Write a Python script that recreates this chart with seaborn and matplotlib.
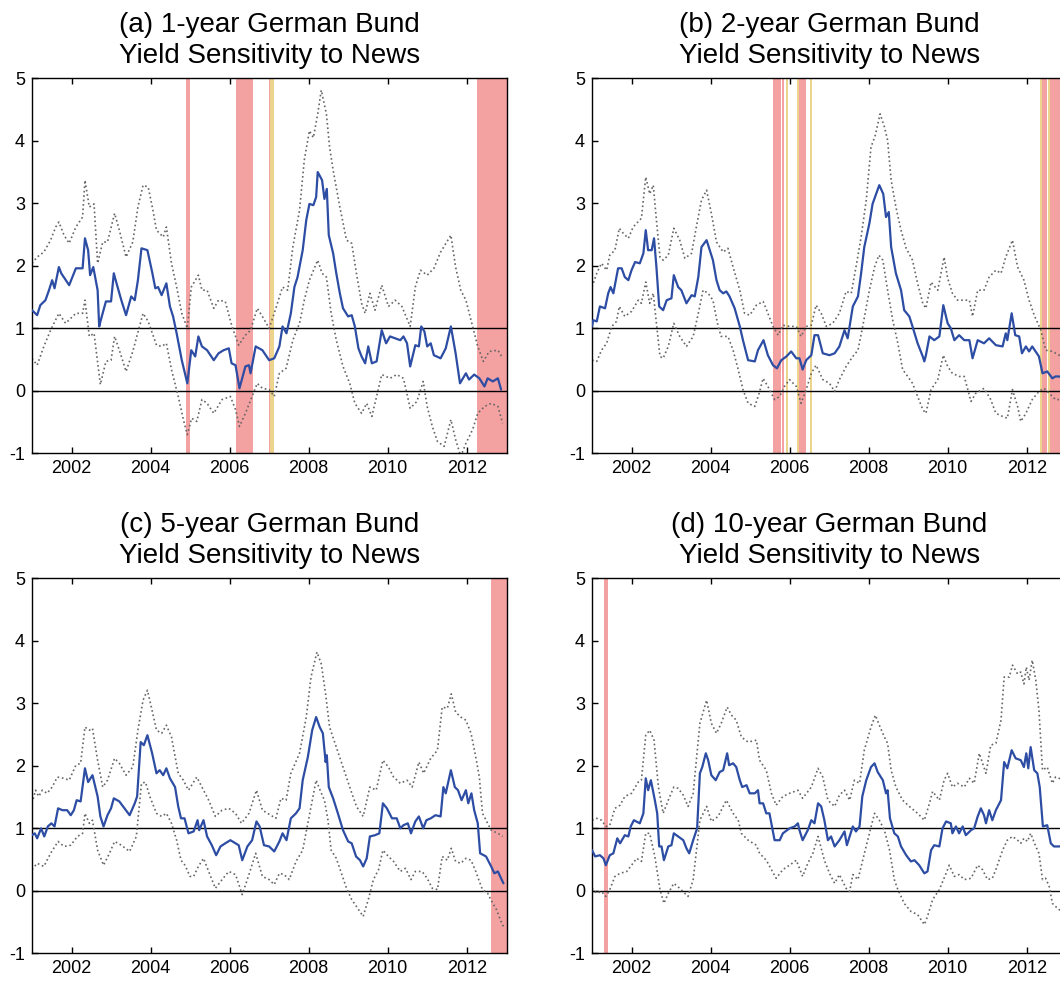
import matplotlib
matplotlib.use("Agg")
import matplotlib.pyplot as plt
import seaborn as sns

# ---- panel (a): 1-year ----
a_mid_t = [2001.00, 2001.13, 2001.21, 2001.34, 2001.43, 2001.51, 2001.57, 2001.68, 2001.74, 2001.94,
           2002.11, 2002.28, 2002.34, 2002.42, 2002.47, 2002.55, 2002.66, 2002.70, 2002.74, 2002.87,
           2003.00, 2003.07, 2003.13, 2003.26, 2003.38, 2003.51, 2003.60, 2003.68, 2003.77, 2003.92,
           2004.04, 2004.12, 2004.19, 2004.28, 2004.40, 2004.49, 2004.57, 2004.66, 2004.79, 2004.93,
           2005.03, 2005.13, 2005.21, 2005.30, 2005.43, 2005.60, 2005.72, 2005.85, 2005.98, 2006.05,
           2006.15, 2006.25, 2006.40, 2006.49, 2006.53, 2006.66, 2006.83, 2007.00, 2007.13, 2007.26,
           2007.34, 2007.44, 2007.55, 2007.64, 2007.72, 2007.85, 2007.94, 2008.02, 2008.12, 2008.19,
           2008.23, 2008.34, 2008.40, 2008.46, 2008.51, 2008.62, 2008.70, 2008.79, 2008.87, 2009.00,
           2009.09, 2009.17, 2009.26, 2009.34, 2009.43, 2009.51, 2009.60, 2009.72, 2009.85, 2009.96,
           2010.06, 2010.19, 2010.32, 2010.40, 2010.49, 2010.57, 2010.70, 2010.79, 2010.85, 2010.93,
           2011.00, 2011.09, 2011.17, 2011.34, 2011.47, 2011.60, 2011.72, 2011.83, 2011.98, 2012.06,
           2012.19, 2012.32, 2012.45, 2012.53, 2012.66, 2012.79, 2012.87]
a_mid_v = [1.29, 1.21, 1.37, 1.45, 1.61, 1.77, 1.64, 1.98, 1.88, 1.69,
           1.96, 1.96, 2.44, 2.25, 1.85, 1.98, 1.61, 1.03, 1.13, 1.43,
           1.43, 1.88, 1.74, 1.45, 1.21, 1.51, 1.45, 1.77, 2.28, 2.25,
           1.90, 1.64, 1.66, 1.53, 1.72, 1.35, 1.19, 0.92, 0.49, 0.12,
           0.65, 0.55, 0.87, 0.71, 0.65, 0.49, 0.60, 0.65, 0.68, 0.44,
           0.41, 0.04, 0.39, 0.41, 0.28, 0.71, 0.65, 0.49, 0.52, 0.71,
           1.03, 0.92, 1.24, 1.66, 1.82, 2.25, 2.73, 2.99, 2.97, 3.10,
           3.50, 3.37, 3.07, 3.23, 2.49, 2.20, 1.88, 1.56, 1.32, 1.19,
           1.21, 1.03, 0.68, 0.55, 0.44, 0.71, 0.44, 0.47, 0.97, 0.76,
           0.87, 0.84, 0.81, 0.87, 0.76, 0.39, 0.73, 0.71, 1.03, 0.95,
           0.71, 0.76, 0.57, 0.52, 0.68, 1.03, 0.60, 0.12, 0.28, 0.18,
           0.26, 0.20, 0.07, 0.20, 0.15, 0.20, 0.02]
a_hi_t = [2001.00, 2001.13, 2001.30, 2001.47, 2001.60, 2001.68, 2001.81, 2001.94, 2002.11, 2002.28,
          2002.34, 2002.45, 2002.57, 2002.66, 2002.79, 2002.91, 2003.09, 2003.21, 2003.38, 2003.55,
          2003.68, 2003.81, 2003.94, 2004.06, 2004.15, 2004.32, 2004.40, 2004.53, 2004.66, 2004.79,
          2004.93, 2005.03, 2005.21, 2005.30, 2005.43, 2005.60, 2005.72, 2005.89, 2006.06, 2006.23,
          2006.40, 2006.53, 2006.70, 2006.83, 2007.00, 2007.13, 2007.34, 2007.47, 2007.60, 2007.77,
          2007.89, 2008.02, 2008.12, 2008.23, 2008.32, 2008.45, 2008.53, 2008.62, 2008.79, 2008.96,
          2009.09, 2009.21, 2009.34, 2009.43, 2009.55, 2009.68, 2009.85, 2010.02, 2010.19, 2010.36,
          2010.57, 2010.70, 2010.83, 2011.00, 2011.17, 2011.34, 2011.60, 2011.72, 2011.85, 2011.98,
          2012.15, 2012.28, 2012.42, 2012.57, 2012.79, 2012.91]
a_hi_v = [2.04, 2.14, 2.22, 2.41, 2.62, 2.70, 2.49, 2.36, 2.62, 2.78,
          3.37, 2.94, 2.99, 2.04, 2.38, 2.38, 2.84, 2.57, 2.14, 2.38,
          2.94, 3.29, 3.26, 2.89, 2.57, 2.46, 2.62, 2.04, 1.66, 1.24,
          1.00, 1.66, 1.85, 1.61, 1.61, 1.32, 1.45, 1.43, 1.03, 0.73,
          0.89, 0.97, 1.32, 1.19, 1.00, 1.24, 1.66, 1.61, 2.30, 2.89,
          3.69, 4.16, 4.05, 4.43, 4.81, 4.43, 3.90, 3.53, 2.94, 2.41,
          2.36, 1.88, 1.40, 1.24, 1.56, 1.29, 1.69, 1.35, 1.45, 1.35,
          1.03, 1.66, 1.93, 1.85, 1.96, 2.22, 2.49, 1.98, 1.61, 1.45,
          1.03, 0.71, 0.47, 0.63, 0.65, 0.52]
a_lo_t = [2001.00, 2001.13, 2001.30, 2001.47, 2001.68, 2001.85, 2002.11, 2002.28, 2002.34, 2002.45,
          2002.57, 2002.73, 2002.87, 2003.00, 2003.09, 2003.21, 2003.38, 2003.55, 2003.81, 2003.94,
          2004.15, 2004.28, 2004.40, 2004.53, 2004.70, 2004.83, 2004.93, 2005.04, 2005.17, 2005.30,
          2005.43, 2005.60, 2005.81, 2006.02, 2006.15, 2006.25, 2006.40, 2006.57, 2006.70, 2006.83,
          2007.00, 2007.13, 2007.26, 2007.43, 2007.60, 2007.77, 2007.89, 2008.02, 2008.23, 2008.34,
          2008.45, 2008.57, 2008.70, 2008.87, 2009.04, 2009.17, 2009.34, 2009.47, 2009.60, 2009.72,
          2009.85, 2010.06, 2010.23, 2010.40, 2010.57, 2010.74, 2010.90, 2011.00, 2011.13, 2011.26,
          2011.43, 2011.60, 2011.72, 2011.85, 2011.98, 2012.15, 2012.28, 2012.45, 2012.62, 2012.79,
          2012.91]
a_lo_v = [0.52, 0.41, 0.71, 0.97, 1.24, 1.08, 1.24, 1.24, 1.45, 0.87,
          0.92, 0.10, 0.47, 0.49, 0.87, 0.65, 0.31, 0.63, 1.24, 1.11,
          0.73, 0.71, 0.76, 0.34, -0.09, -0.46, -0.70, -0.44, -0.49, -0.14,
          -0.20, -0.36, -0.14, -0.09, -0.30, -0.57, -0.36, -0.09, 0.12, 0.04,
          0.02, -0.09, 0.28, 0.36, 0.81, 1.08, 1.45, 1.77, 2.09, 1.88,
          1.82, 1.24, 0.81, 0.39, 0.12, -0.20, -0.36, -0.20, -0.41, -0.09,
          0.26, 0.20, 0.26, 0.20, -0.28, -0.17, 0.15, -0.25, -0.57, -0.81,
          -0.89, -0.46, -0.78, -1.05, -0.84, -0.62, -0.36, -0.25, -0.20, -0.25,
          -0.52]

# ---- panel (b): 2-year ----
b_mid_t = [2001.00, 2001.03, 2001.12, 2001.20, 2001.33, 2001.41, 2001.47, 2001.54, 2001.66, 2001.75,
           2001.83, 2001.92, 2002.00, 2002.09, 2002.21, 2002.30, 2002.36, 2002.42, 2002.51, 2002.57,
           2002.63, 2002.70, 2002.80, 2002.89, 2003.01, 2003.07, 2003.18, 2003.26, 2003.39, 2003.52,
           2003.60, 2003.69, 2003.77, 2003.90, 2003.98, 2004.06, 2004.15, 2004.23, 2004.32, 2004.40,
           2004.48, 2004.61, 2004.74, 2004.82, 2004.95, 2005.12, 2005.20, 2005.34, 2005.45, 2005.58,
           2005.68, 2005.79, 2005.92, 2006.04, 2006.17, 2006.25, 2006.33, 2006.42, 2006.55, 2006.63,
           2006.72, 2006.84, 2007.01, 2007.14, 2007.26, 2007.39, 2007.47, 2007.60, 2007.73, 2007.81,
           2007.89, 2008.02, 2008.10, 2008.19, 2008.27, 2008.37, 2008.44, 2008.51, 2008.57, 2008.69,
           2008.82, 2008.90, 2009.03, 2009.11, 2009.24, 2009.37, 2009.41, 2009.45, 2009.54, 2009.66,
           2009.79, 2009.89, 2010.00, 2010.08, 2010.17, 2010.29, 2010.42, 2010.55, 2010.63, 2010.76,
           2010.92, 2011.05, 2011.22, 2011.39, 2011.47, 2011.51, 2011.62, 2011.71, 2011.81, 2011.88,
           2011.98, 2012.06, 2012.14, 2012.31, 2012.40, 2012.52, 2012.65, 2012.73, 2012.82, 2012.93]
b_mid_v = [1.03, 1.13, 1.11, 1.35, 1.32, 1.56, 1.66, 1.56, 1.96, 1.96,
           1.82, 1.77, 1.93, 2.06, 2.04, 2.20, 2.57, 2.25, 2.25, 2.44,
           1.98, 1.35, 1.29, 1.45, 1.48, 1.85, 1.66, 1.61, 1.40, 1.53,
           1.51, 1.82, 2.30, 2.41, 2.25, 2.09, 1.77, 1.61, 1.56, 1.59,
           1.51, 1.32, 1.03, 0.81, 0.49, 0.47, 0.65, 0.81, 0.57, 0.41,
           0.36, 0.49, 0.55, 0.63, 0.52, 0.52, 0.34, 0.49, 0.57, 0.89,
           0.89, 0.60, 0.57, 0.60, 0.71, 0.97, 0.84, 1.35, 1.51, 1.88,
           2.30, 2.68, 2.99, 3.15, 3.29, 3.15, 2.78, 2.86, 2.30, 1.88,
           1.61, 1.29, 1.19, 1.03, 0.76, 0.55, 0.47, 0.57, 0.87, 0.81,
           0.87, 1.37, 1.08, 1.00, 0.81, 0.89, 0.81, 0.81, 0.52, 0.81,
           0.76, 0.84, 0.73, 0.71, 0.92, 0.81, 1.24, 0.89, 0.87, 0.60,
           0.71, 0.63, 0.71, 0.55, 0.28, 0.31, 0.20, 0.23, 0.23, 0.20]
b_hi_t = [2001.00, 2001.12, 2001.24, 2001.37, 2001.45, 2001.58, 2001.69, 2001.79, 2001.92, 2002.04,
          2002.25, 2002.36, 2002.46, 2002.55, 2002.63, 2002.72, 2002.80, 2002.93, 2003.07, 2003.22,
          2003.35, 2003.52, 2003.64, 2003.77, 2003.90, 2004.02, 2004.15, 2004.32, 2004.44, 2004.57,
          2004.74, 2004.86, 2004.99, 2005.16, 2005.33, 2005.45, 2005.58, 2005.71, 2005.83, 2006.00,
          2006.17, 2006.29, 2006.42, 2006.55, 2006.67, 2006.80, 2006.93, 2007.09, 2007.26, 2007.43,
          2007.56, 2007.68, 2007.81, 2007.94, 2008.06, 2008.17, 2008.29, 2008.40, 2008.48, 2008.57,
          2008.69, 2008.82, 2008.95, 2009.11, 2009.24, 2009.37, 2009.45, 2009.58, 2009.75, 2009.91,
          2010.00, 2010.12, 2010.25, 2010.42, 2010.55, 2010.63, 2010.76, 2010.92, 2011.05, 2011.22,
          2011.35, 2011.47, 2011.64, 2011.77, 2011.93, 2012.06, 2012.19, 2012.36, 2012.48, 2012.65,
          2012.82, 2012.93]
b_hi_v = [1.66, 1.88, 2.04, 1.93, 2.17, 2.25, 2.60, 2.52, 2.44, 2.62,
          2.76, 3.42, 3.15, 3.29, 2.73, 2.14, 2.09, 2.17, 2.60, 2.41,
          2.12, 2.20, 2.62, 3.05, 3.21, 2.84, 2.38, 2.22, 2.28, 1.98,
          1.61, 1.24, 1.21, 1.37, 1.43, 1.24, 1.03, 0.89, 1.05, 1.03,
          1.03, 0.87, 1.03, 1.05, 1.37, 1.24, 1.03, 1.08, 1.24, 1.59,
          1.56, 1.98, 2.46, 3.05, 3.90, 4.09, 4.43, 4.22, 4.01, 3.37,
          2.94, 2.57, 2.28, 2.09, 1.72, 1.40, 1.32, 1.74, 1.61, 2.14,
          1.80, 1.56, 1.45, 1.45, 1.45, 1.19, 1.61, 1.61, 1.82, 1.93,
          1.88, 2.14, 2.41, 1.98, 1.77, 1.45, 1.21, 0.97, 0.65, 0.63,
          0.57, 0.55]
b_lo_t = [2001.00, 2001.12, 2001.24, 2001.37, 2001.50, 2001.62, 2001.69, 2001.83, 2002.00, 2002.17,
          2002.25, 2002.36, 2002.46, 2002.55, 2002.63, 2002.72, 2002.80, 2002.93, 2003.07, 2003.22,
          2003.39, 2003.56, 2003.69, 2003.81, 2003.94, 2004.06, 2004.19, 2004.27, 2004.44, 2004.57,
          2004.70, 2004.82, 2004.95, 2005.12, 2005.23, 2005.33, 2005.45, 2005.62, 2005.75, 2005.87,
          2006.00, 2006.17, 2006.29, 2006.42, 2006.55, 2006.67, 2006.84, 2007.01, 2007.14, 2007.26,
          2007.43, 2007.60, 2007.73, 2007.85, 2008.02, 2008.15, 2008.26, 2008.36, 2008.48, 2008.61,
          2008.74, 2008.86, 2008.99, 2009.11, 2009.24, 2009.37, 2009.45, 2009.58, 2009.75, 2009.89,
          2010.00, 2010.12, 2010.29, 2010.42, 2010.59, 2010.71, 2010.92, 2011.09, 2011.22, 2011.39,
          2011.51, 2011.64, 2011.77, 2011.85, 2011.98, 2012.14, 2012.31, 2012.44, 2012.57, 2012.73,
          2012.82, 2012.93]
b_lo_v = [0.49, 0.47, 0.65, 0.76, 1.03, 1.11, 1.35, 1.19, 1.27, 1.45,
          1.40, 1.74, 1.40, 1.56, 1.08, 0.55, 0.52, 0.71, 1.08, 0.87,
          0.71, 0.87, 1.24, 1.61, 1.56, 1.45, 1.03, 0.87, 0.87, 0.65,
          0.34, 0.02, -0.20, -0.25, -0.04, 0.20, 0.07, -0.14, -0.09, 0.07,
          0.18, 0.07, -0.20, 0.02, 0.28, 0.41, 0.18, 0.12, -0.01, 0.18,
          0.39, 0.55, 0.65, 1.03, 1.61, 1.98, 2.17, 2.09, 1.61, 1.13,
          0.76, 0.34, 0.23, 0.12, -0.09, -0.30, -0.36, 0.02, 0.18, 0.57,
          0.39, 0.28, 0.23, 0.23, -0.17, -0.04, 0.04, -0.14, -0.36, -0.41,
          -0.44, 0.02, -0.25, -0.49, -0.36, -0.14, -0.01, 0.04, -0.04, -0.14,
          -0.14, -0.15]

# ---- panel (c): 5-year ----
c_mid_t = [2001.00, 2001.07, 2001.13, 2001.23, 2001.31, 2001.40, 2001.49, 2001.57, 2001.66, 2001.77,
           2001.89, 2001.98, 2002.06, 2002.13, 2002.23, 2002.34, 2002.42, 2002.53, 2002.66, 2002.73,
           2002.81, 2002.91, 2003.00, 2003.07, 2003.21, 2003.34, 2003.47, 2003.60, 2003.66, 2003.75,
           2003.83, 2003.92, 2004.04, 2004.15, 2004.23, 2004.32, 2004.40, 2004.49, 2004.62, 2004.70,
           2004.77, 2004.86, 2004.96, 2005.09, 2005.19, 2005.23, 2005.34, 2005.43, 2005.55, 2005.66,
           2005.77, 2005.89, 2006.02, 2006.15, 2006.23, 2006.32, 2006.45, 2006.57, 2006.68, 2006.76,
           2006.87, 2007.00, 2007.13, 2007.26, 2007.34, 2007.44, 2007.55, 2007.68, 2007.77, 2007.85,
           2007.98, 2008.09, 2008.19, 2008.28, 2008.36, 2008.43, 2008.46, 2008.51, 2008.62, 2008.74,
           2008.87, 2009.00, 2009.09, 2009.20, 2009.30, 2009.38, 2009.47, 2009.55, 2009.68, 2009.79,
           2009.88, 2009.98, 2010.11, 2010.23, 2010.32, 2010.40, 2010.51, 2010.59, 2010.70, 2010.79,
           2010.90, 2010.98, 2011.09, 2011.21, 2011.34, 2011.41, 2011.47, 2011.60, 2011.70, 2011.78,
           2011.87, 2011.98, 2012.04, 2012.12, 2012.19, 2012.28, 2012.34, 2012.49, 2012.62, 2012.70,
           2012.79, 2012.87, 2012.93]
c_mid_v = [0.89, 0.92, 0.84, 1.00, 0.87, 1.03, 1.08, 1.03, 1.32, 1.29,
           1.29, 1.21, 1.29, 1.45, 1.43, 1.96, 1.74, 1.85, 1.51, 1.19,
           1.03, 1.21, 1.32, 1.48, 1.43, 1.32, 1.21, 1.40, 1.51, 2.38,
           2.33, 2.49, 2.20, 1.88, 1.93, 1.85, 1.96, 1.80, 1.66, 1.35,
           1.16, 1.16, 0.92, 0.95, 1.13, 0.97, 1.13, 0.87, 0.73, 0.57,
           0.71, 0.76, 0.81, 0.76, 0.73, 0.49, 0.71, 0.81, 1.11, 1.03,
           0.73, 0.71, 0.63, 0.79, 0.92, 0.81, 1.16, 1.24, 1.32, 1.77,
           2.14, 2.57, 2.78, 2.62, 2.52, 2.06, 2.17, 1.66, 1.48, 1.24,
           0.97, 0.79, 0.76, 0.55, 0.49, 0.39, 0.52, 0.87, 0.89, 0.92,
           1.40, 1.32, 1.16, 1.16, 1.00, 1.05, 1.08, 0.92, 1.11, 1.19,
           1.00, 1.13, 1.16, 1.21, 1.19, 1.66, 1.56, 1.93, 1.66, 1.61,
           1.45, 1.61, 1.40, 1.56, 1.29, 1.08, 0.60, 0.55, 0.39, 0.28,
           0.31, 0.20, 0.12]
c_hi_t = [2001.00, 2001.09, 2001.17, 2001.26, 2001.38, 2001.51, 2001.64, 2001.81, 2001.94, 2002.11,
          2002.23, 2002.34, 2002.45, 2002.53, 2002.66, 2002.79, 2002.91, 2003.09, 2003.21, 2003.38,
          2003.55, 2003.68, 2003.81, 2003.92, 2004.02, 2004.15, 2004.28, 2004.40, 2004.53, 2004.70,
          2004.83, 2004.96, 2005.17, 2005.34, 2005.47, 2005.64, 2005.81, 2005.98, 2006.15, 2006.30,
          2006.49, 2006.68, 2006.83, 2007.04, 2007.17, 2007.30, 2007.43, 2007.55, 2007.77, 2007.94,
          2008.06, 2008.21, 2008.32, 2008.43, 2008.53, 2008.70, 2008.87, 2009.04, 2009.21, 2009.38,
          2009.55, 2009.71, 2009.88, 2010.02, 2010.15, 2010.32, 2010.49, 2010.62, 2010.79, 2010.91,
          2011.09, 2011.26, 2011.38, 2011.51, 2011.61, 2011.72, 2011.85, 2011.98, 2012.11, 2012.23,
          2012.32, 2012.40, 2012.49, 2012.62, 2012.79, 2012.91]
c_hi_v = [1.40, 1.61, 1.51, 1.61, 1.56, 1.66, 1.82, 1.80, 1.77, 2.01,
          2.04, 2.62, 2.57, 2.60, 2.09, 1.66, 1.77, 2.12, 2.04, 1.85,
          1.98, 2.57, 3.05, 3.21, 2.94, 2.57, 2.52, 2.65, 2.46, 1.88,
          1.77, 1.61, 1.82, 1.61, 1.45, 1.19, 1.29, 1.32, 1.24, 1.08,
          1.24, 1.61, 1.29, 1.21, 1.16, 1.48, 1.45, 1.88, 2.20, 2.78,
          3.42, 3.82, 3.63, 3.15, 2.62, 2.30, 1.98, 1.66, 1.35, 1.19,
          1.66, 1.61, 2.09, 1.98, 1.82, 1.72, 1.77, 1.66, 2.06, 1.88,
          2.12, 2.25, 2.94, 2.92, 3.15, 2.86, 2.78, 2.73, 2.52, 2.14,
          1.82, 1.24, 1.13, 0.97, 0.92, 0.87]
c_lo_t = [2001.00, 2001.13, 2001.30, 2001.47, 2001.66, 2001.81, 2001.98, 2002.15, 2002.28, 2002.34,
          2002.45, 2002.53, 2002.66, 2002.81, 2002.96, 2003.09, 2003.26, 2003.47, 2003.64, 2003.77,
          2003.87, 2003.98, 2004.15, 2004.28, 2004.40, 2004.53, 2004.66, 2004.77, 2004.87, 2005.00,
          2005.09, 2005.21, 2005.34, 2005.47, 2005.64, 2005.81, 2005.98, 2006.15, 2006.32, 2006.49,
          2006.66, 2006.83, 2007.00, 2007.13, 2007.26, 2007.38, 2007.51, 2007.68, 2007.85, 2007.98,
          2008.19, 2008.29, 2008.40, 2008.49, 2008.57, 2008.70, 2008.83, 2008.96, 2009.09, 2009.21,
          2009.38, 2009.51, 2009.64, 2009.77, 2009.88, 2010.02, 2010.15, 2010.32, 2010.45, 2010.59,
          2010.70, 2010.87, 2011.00, 2011.13, 2011.26, 2011.38, 2011.51, 2011.61, 2011.72, 2011.85,
          2011.98, 2012.11, 2012.23, 2012.32, 2012.40, 2012.53, 2012.66, 2012.74, 2012.87, 2012.93]
c_lo_v = [0.34, 0.44, 0.39, 0.60, 0.79, 0.71, 0.73, 0.87, 0.92, 1.24,
          1.08, 1.13, 0.65, 0.41, 0.60, 0.79, 0.73, 0.63, 0.87, 1.72,
          1.74, 1.51, 1.24, 1.19, 1.24, 1.08, 0.81, 0.49, 0.41, 0.23,
          0.23, 0.39, 0.52, 0.31, 0.04, 0.18, 0.31, 0.26, -0.06, 0.26,
          0.60, 0.23, 0.18, 0.10, 0.28, 0.26, 0.18, 0.47, 0.65, 1.08,
          1.77, 1.61, 1.45, 1.13, 0.65, 0.52, 0.28, 0.04, -0.14, -0.25,
          -0.41, -0.14, 0.18, 0.34, 0.65, 0.55, 0.47, 0.31, 0.36, 0.18,
          0.31, 0.31, 0.20, 0.04, 0.02, 0.55, 0.49, 0.68, 0.47, 0.44,
          0.52, 0.49, 0.31, 0.15, 0.02, -0.04, -0.20, -0.28, -0.49, -0.57]

# ---- panel (d): 10-year ----
d_mid_t = [2001.00, 2001.08, 2001.20, 2001.29, 2001.35, 2001.45, 2001.54, 2001.64, 2001.71, 2001.83,
           2001.92, 2001.98, 2002.06, 2002.21, 2002.30, 2002.36, 2002.42, 2002.49, 2002.59, 2002.65,
           2002.70, 2002.76, 2002.82, 2002.93, 2003.01, 2003.07, 2003.18, 2003.31, 2003.39, 2003.46,
           2003.56, 2003.66, 2003.73, 2003.79, 2003.88, 2003.94, 2004.02, 2004.13, 2004.23, 2004.32,
           2004.42, 2004.47, 2004.57, 2004.65, 2004.74, 2004.80, 2004.91, 2004.99, 2005.12, 2005.20,
           2005.24, 2005.33, 2005.41, 2005.49, 2005.62, 2005.75, 2005.83, 2006.00, 2006.13, 2006.21,
           2006.25, 2006.33, 2006.46, 2006.55, 2006.63, 2006.72, 2006.80, 2006.88, 2006.97, 2007.05,
           2007.14, 2007.26, 2007.39, 2007.45, 2007.52, 2007.60, 2007.68, 2007.77, 2007.84, 2007.94,
           2008.06, 2008.15, 2008.23, 2008.36, 2008.44, 2008.48, 2008.54, 2008.65, 2008.74, 2008.82,
           2008.95, 2009.07, 2009.16, 2009.28, 2009.41, 2009.49, 2009.58, 2009.66, 2009.79, 2009.87,
           2009.96, 2010.08, 2010.12, 2010.21, 2010.29, 2010.38, 2010.46, 2010.59, 2010.67, 2010.76,
           2010.84, 2010.92, 2010.97, 2011.05, 2011.13, 2011.22, 2011.35, 2011.43, 2011.51, 2011.62,
           2011.72, 2011.85, 2011.93, 2011.99, 2012.04, 2012.10, 2012.19, 2012.27, 2012.33, 2012.41,
           2012.52, 2012.61, 2012.69, 2012.82, 2012.93]
d_mid_v = [0.65, 0.55, 0.57, 0.52, 0.41, 0.57, 0.60, 0.84, 0.76, 0.89,
           0.87, 1.03, 1.13, 1.08, 1.24, 1.80, 1.61, 1.77, 1.45, 1.24,
           0.71, 0.71, 0.49, 0.71, 0.73, 0.92, 0.87, 0.81, 0.68, 0.60,
           0.81, 1.00, 1.88, 1.98, 2.20, 2.09, 1.85, 1.77, 1.90, 1.93,
           2.20, 2.01, 2.04, 1.98, 1.77, 1.66, 1.69, 1.56, 1.56, 1.61,
           1.40, 1.40, 1.24, 1.24, 0.81, 0.81, 0.92, 1.00, 1.03, 1.08,
           0.97, 0.81, 0.97, 1.13, 1.08, 1.40, 1.35, 1.13, 0.81, 0.87,
           0.71, 0.81, 0.95, 0.73, 0.87, 1.03, 0.95, 1.03, 1.51, 1.77,
           1.98, 2.04, 1.90, 1.77, 1.56, 1.61, 1.16, 0.92, 0.87, 0.71,
           0.57, 0.47, 0.49, 0.41, 0.28, 0.31, 0.65, 0.73, 0.71, 1.00,
           1.11, 1.08, 0.92, 1.03, 0.92, 1.03, 0.89, 0.97, 1.00, 1.19,
           1.32, 1.21, 1.08, 1.29, 1.13, 1.29, 1.45, 2.06, 1.96, 2.25,
           2.12, 2.09, 1.98, 2.20, 1.96, 2.30, 1.93, 1.88, 1.66, 1.03,
           1.05, 0.76, 0.71, 0.71, 0.72]
d_hi_t = [2001.00, 2001.12, 2001.24, 2001.35, 2001.45, 2001.58, 2001.71, 2001.83, 2002.00, 2002.17,
          2002.25, 2002.36, 2002.46, 2002.57, 2002.68, 2002.80, 2002.93, 2003.07, 2003.18, 2003.31,
          2003.43, 2003.56, 2003.73, 2003.90, 2004.02, 2004.15, 2004.27, 2004.42, 2004.53, 2004.65,
          2004.78, 2004.95, 2005.16, 2005.24, 2005.41, 2005.54, 2005.66, 2005.83, 2006.00, 2006.21,
          2006.33, 2006.55, 2006.72, 2006.84, 2006.97, 2007.14, 2007.26, 2007.39, 2007.52, 2007.64,
          2007.77, 2007.89, 2008.06, 2008.17, 2008.29, 2008.40, 2008.48, 2008.57, 2008.69, 2008.86,
          2009.03, 2009.24, 2009.41, 2009.54, 2009.62, 2009.79, 2009.91, 2010.00, 2010.12, 2010.25,
          2010.42, 2010.55, 2010.67, 2010.80, 2010.97, 2011.09, 2011.22, 2011.35, 2011.43, 2011.56,
          2011.64, 2011.77, 2011.85, 2011.93, 2011.99, 2012.06, 2012.14, 2012.23, 2012.31, 2012.40,
          2012.52, 2012.65, 2012.73, 2012.82, 2012.93]
d_hi_v = [1.13, 1.16, 1.13, 1.03, 1.05, 1.32, 1.37, 1.51, 1.56, 1.74,
          1.77, 2.49, 2.57, 2.41, 1.66, 1.24, 1.45, 1.66, 1.64, 1.53,
          1.35, 1.56, 2.68, 3.05, 2.68, 2.52, 2.68, 2.94, 2.81, 2.73,
          2.46, 2.38, 2.41, 2.09, 1.93, 1.56, 1.37, 1.51, 1.56, 1.61,
          1.48, 1.66, 1.96, 1.82, 1.45, 1.35, 1.53, 1.61, 1.45, 1.77,
          1.72, 2.25, 2.62, 2.81, 2.62, 2.46, 2.36, 1.93, 1.66, 1.45,
          1.35, 1.24, 1.13, 1.40, 1.59, 1.45, 1.77, 1.88, 1.66, 1.72,
          1.66, 1.80, 1.72, 2.20, 1.88, 2.33, 2.36, 2.73, 3.42, 3.42,
          3.61, 3.47, 3.50, 3.31, 3.58, 3.37, 3.69, 3.37, 2.89, 1.93,
          1.98, 1.72, 1.82, 1.80, 1.78]
d_lo_t = [2001.00, 2001.12, 2001.24, 2001.35, 2001.45, 2001.58, 2001.71, 2001.88, 2002.00, 2002.13,
          2002.25, 2002.36, 2002.46, 2002.59, 2002.72, 2002.82, 2002.93, 2003.07, 2003.22, 2003.43,
          2003.56, 2003.73, 2003.90, 2004.02, 2004.19, 2004.40, 2004.57, 2004.70, 2004.78, 2004.95,
          2005.16, 2005.24, 2005.41, 2005.66, 2005.83, 2006.00, 2006.17, 2006.33, 2006.46, 2006.59,
          2006.72, 2006.88, 2007.01, 2007.14, 2007.26, 2007.43, 2007.52, 2007.60, 2007.73, 2007.85,
          2008.02, 2008.15, 2008.27, 2008.40, 2008.53, 2008.65, 2008.74, 2008.90, 2009.07, 2009.24,
          2009.41, 2009.49, 2009.62, 2009.79, 2009.96, 2010.04, 2010.17, 2010.29, 2010.42, 2010.59,
          2010.76, 2010.88, 2011.01, 2011.13, 2011.22, 2011.39, 2011.51, 2011.64, 2011.77, 2011.85,
          2011.93, 2012.02, 2012.10, 2012.23, 2012.31, 2012.40, 2012.48, 2012.57, 2012.65, 2012.73,
          2012.82, 2012.93]
d_lo_v = [0.04, -0.04, -0.01, -0.09, 0.02, 0.23, 0.28, 0.31, 0.41, 0.52,
          0.47, 0.92, 0.92, 0.55, 0.02, -0.20, -0.04, 0.12, 0.04, -0.09,
          0.18, 1.13, 1.35, 1.11, 1.19, 1.45, 1.24, 1.13, 0.92, 0.81,
          0.73, 0.60, 0.49, 0.20, 0.34, 0.41, 0.49, 0.23, 0.44, 0.60,
          0.87, 0.49, 0.28, 0.12, 0.26, 0.04, -0.01, 0.26, 0.18, 0.49,
          0.92, 1.24, 1.13, 0.97, 0.65, 0.18, 0.02, -0.20, -0.33, -0.38,
          -0.54, -0.41, -0.14, 0.02, 0.28, 0.41, 0.23, 0.26, 0.18, 0.20,
          0.41, 0.34, 0.18, 0.20, 0.34, 0.65, 0.81, 0.87, 0.81, 0.76,
          0.84, 0.79, 0.92, 0.71, 0.60, 0.18, 0.20, 0.07, -0.20, -0.25,
          -0.30, -0.33]

# shaded episodes: (start, end, kind)
a_shade = [(2004.89, 2004.99, "red"), (2006.17, 2006.59, "red"), (2006.99, 2007.02, "red"),
           (2007.02, 2007.12, "yellow"), (2012.25, 2013.10, "red")]
b_shade = [(2005.57, 2005.78, "red"), (2005.81, 2005.86, "red"), (2005.90, 2005.95, "yellow"),
           (2006.18, 2006.24, "yellow"), (2006.24, 2006.42, "red"), (2006.52, 2006.56, "yellow"),
           (2012.34, 2012.38, "yellow"), (2012.38, 2012.52, "red"), (2012.53, 2012.58, "yellow"),
           (2012.58, 2013.10, "red")]
c_shade = [(2012.62, 2013.10, "red")]
d_shade = [(2001.31, 2001.40, "red")]

titles = ["(a) 1-year German Bund\nYield Sensitivity to News",
          "(b) 2-year German Bund\nYield Sensitivity to News",
          "(c) 5-year German Bund\nYield Sensitivity to News",
          "(d) 10-year German Bund\nYield Sensitivity to News"]
year_ticks = [2002, 2004, 2006, 2008, 2010, 2012]

sns.set_style("ticks")
plt.rcParams['font.family'] = ['Liberation Sans', 'DejaVu Sans']
plt.rcParams['axes.unicode_minus'] = False
plt.rcParams['text.color'] = 'black'
plt.rcParams['xtick.color'] = 'black'
plt.rcParams['ytick.color'] = 'black'

shade_col = {"red": "#F4A1A1", "yellow": "#ECD48C"}
blue = "#2D4DA4"
grey = "#666666"

fig = plt.figure(figsize=(10.6, 9.81), dpi=100)
# axes boxes in figure fractions (right-hand panels run past the page edge)
boxes = [[0.0302, 0.5379, 0.4481, 0.3823],
         [0.5585, 0.5379, 0.4481, 0.3823],
         [0.0302, 0.0282, 0.4481, 0.3823],
         [0.5585, 0.0282, 0.4481, 0.3823]]

panels = [(a_mid_t, a_mid_v, a_hi_t, a_hi_v, a_lo_t, a_lo_v, a_shade),
          (b_mid_t, b_mid_v, b_hi_t, b_hi_v, b_lo_t, b_lo_v, b_shade),
          (c_mid_t, c_mid_v, c_hi_t, c_hi_v, c_lo_t, c_lo_v, c_shade),
          (d_mid_t, d_mid_v, d_hi_t, d_hi_v, d_lo_t, d_lo_v, d_shade)]

for i, (mt, mv, ht, hv, lt, lv, shade) in enumerate(panels):
    ax = fig.add_axes(boxes[i])
    for s, e, k in shade:
        ax.axvspan(s, e, color=shade_col[k], lw=0, zorder=0)
    ax.axhline(0, color="black", lw=1.0, zorder=1)
    ax.axhline(1, color="black", lw=1.0, zorder=1)
    sns.lineplot(x=ht, y=hv, ax=ax, color=grey, lw=1.2, linestyle=":", estimator=None, zorder=2)
    sns.lineplot(x=lt, y=lv, ax=ax, color=grey, lw=1.2, linestyle=":", estimator=None, zorder=2)
    sns.lineplot(x=mt, y=mv, ax=ax, color=blue, lw=1.6, estimator=None, zorder=3)
    ax.set_xlim(2001.0, 2013.02)
    ax.set_ylim(-1, 5)
    ax.set_xticks(year_ticks)
    ax.set_yticks(range(-1, 6))
    ax.set_xlabel("")
    ax.set_ylabel("")
    ax.tick_params(direction="in", top=True, right=False, length=4, width=1,
                   labelsize=13, pad=5, colors="black")
    for sp in ax.spines.values():
        sp.set_linewidth(1.0)
        sp.set_color("black")
    ax.set_title(titles[i], fontsize=20, pad=11, linespacing=1.26, color="black")

fig.savefig("out.png", dpi=100)
